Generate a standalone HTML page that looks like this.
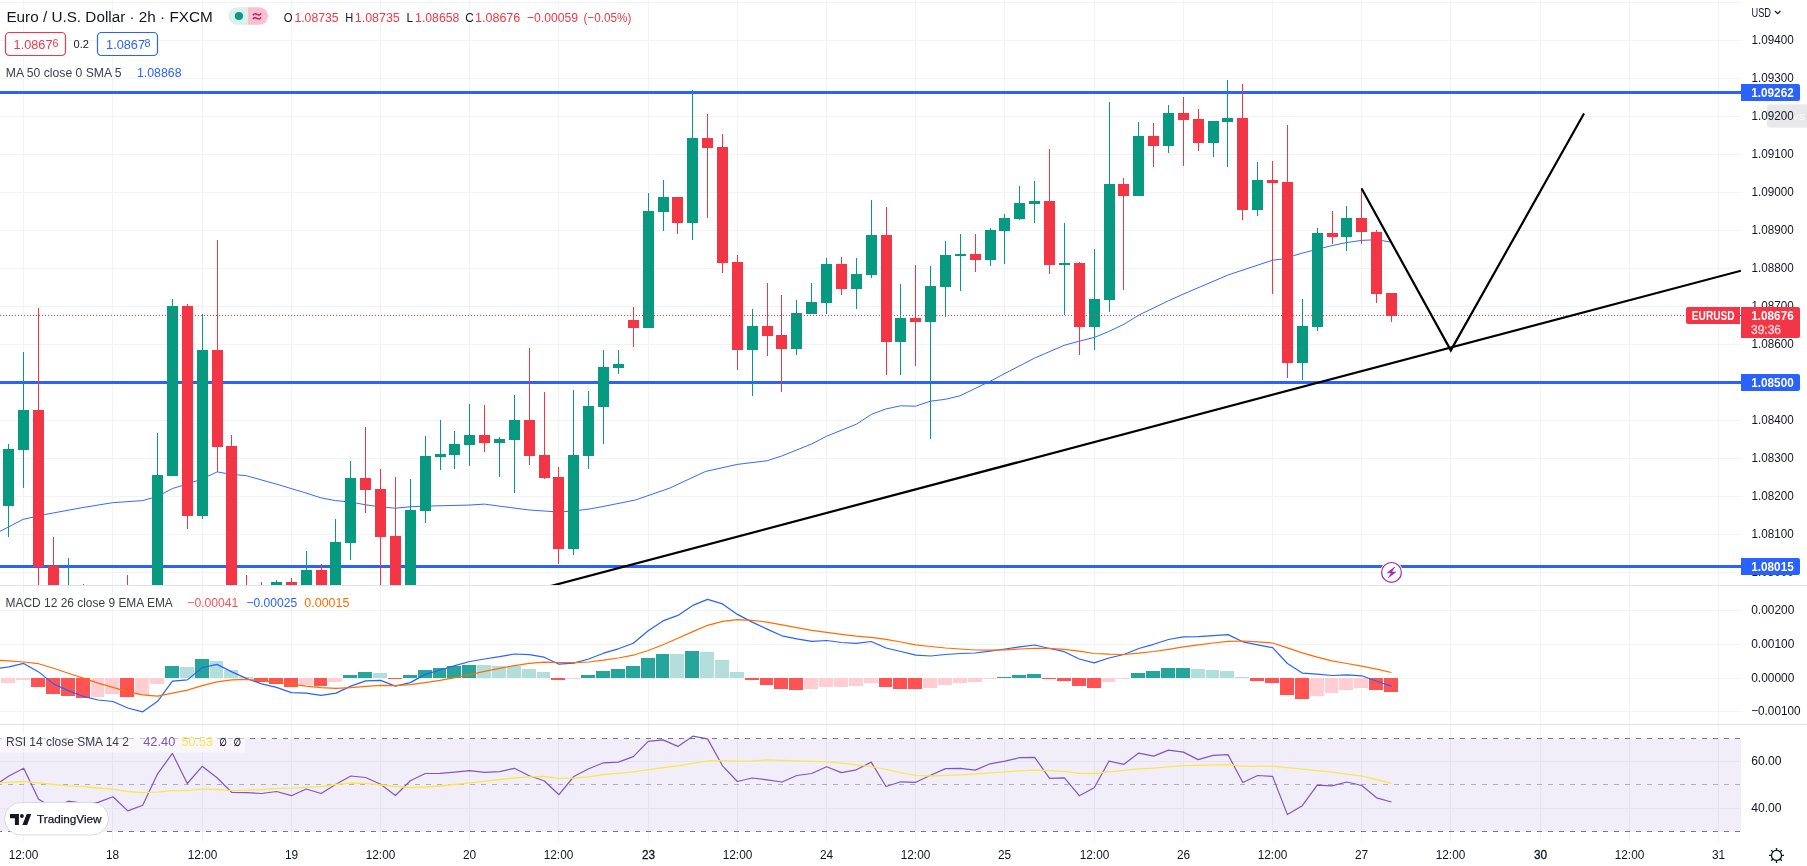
<!DOCTYPE html>
<html><head><meta charset="utf-8"><title>EURUSD chart</title>
<style>html,body{margin:0;padding:0;background:#fff;width:1807px;height:866px;overflow:hidden}</style></head>
<body>
<svg width="1807" height="866" viewBox="0 0 1807 866" style="position:absolute;left:0;top:0;will-change:transform;font-family:'Liberation Sans','DejaVu Sans',sans-serif">
<defs><clipPath id="cm"><rect x="0" y="0" width="1741" height="585"/></clipPath><clipPath id="cd"><rect x="0" y="586" width="1741" height="138"/></clipPath><clipPath id="cr"><rect x="0" y="725" width="1741" height="116"/></clipPath></defs>
<rect width="1807" height="866" fill="#fff"/>
<path d="M23.5 0V841 M112.5 0V841 M202.5 0V841 M291.5 0V841 M380.5 0V841 M469.5 0V841 M558.5 0V841 M648.5 0V841 M737.5 0V841 M826.5 0V841 M915.5 0V841 M1004.5 0V841 M1094.5 0V841 M1183.5 0V841 M1272.5 0V841 M1361.5 0V841 M1450.5 0V841 M1540.5 0V841 M1629.5 0V841 M1718.5 0V841 M0 2.5H1741 M0 40.5H1741 M0 78.5H1741 M0 116.5H1741 M0 154.5H1741 M0 192.5H1741 M0 230.5H1741 M0 268.5H1741 M0 306.5H1741 M0 344.5H1741 M0 382.5H1741 M0 420.5H1741 M0 458.5H1741 M0 496.5H1741 M0 534.5H1741 M0 572.5H1741 M0 610.5H1741 M0 644.5H1741 M0 678.5H1741 M0 711.5H1741 M0 761.5H1741 M0 808.5H1741" stroke="#f2f3f5" stroke-width="1" fill="none" shape-rendering="crispEdges"/>
<path d="M0 585.5H1807M0 724.5H1807" stroke="#e0e3eb" stroke-width="1" shape-rendering="crispEdges"/>
<rect x="0" y="738.5" width="1741" height="93" fill="#7e57c2" fill-opacity="0.1"/>
<path d="M0 738.5H1741M0 831.5H1741" stroke="#787b86" stroke-width="1" stroke-dasharray="5 6" stroke-dashoffset="3" shape-rendering="crispEdges"/>
<path d="M0 784.5H1741" stroke="#787b86" stroke-opacity=".55" stroke-width="1" stroke-dasharray="5 6" stroke-dashoffset="3" shape-rendering="crispEdges"/>
<g clip-path="url(#cm)">
<rect x="0" y="91.0" width="1741" height="3" fill="#2962ff" shape-rendering="crispEdges"/>
<rect x="0" y="381.0" width="1741" height="3" fill="#2962ff" shape-rendering="crispEdges"/>
<rect x="0" y="565.0" width="1741" height="3" fill="#2962ff" shape-rendering="crispEdges"/>
<polyline fill="none" stroke="#2962ff" stroke-opacity=".95" stroke-width="1" stroke-linejoin="round" points="0,531.4 23.2,519.3 45,514.5 83,507.5 112.6,502.7 142.7,500.6 157.6,496.4 172.5,488.5 187.4,484 202.3,478.8 217.2,471.9 231.4,474.3 246.3,475.7 276,484 291,488.5 306,493 320.8,497.8 335.4,500.6 350.6,502 365.5,504.8 380.4,506.8 395.3,508.2 410.2,506.8 425,506.1 469,505.1 484.3,504.1 499.2,506.1 529.3,510 558.8,512 573.7,511 590,508.9 603,506.5 618,503.5 635.4,500 670,488 680,483.3 705.4,471.5 737.3,464.4 767.3,460.7 781.4,456.1 811.4,444.1 826.4,436.3 856.4,424.2 871.5,414.3 885.7,409 900.7,405.8 915.5,406.2 930.5,401.2 945.3,399.3 960,395.8 990,381.3 1005,373.4 1034.4,358.2 1064.2,345.3 1079.5,341.1 1094.5,337.4 1109.5,331.2 1124,324.2 1139,315 1153.5,308 1168.4,300.8 1183.3,294.1 1228,275 1272.6,260.2 1281.6,259.1 1302,253.2 1317,249.4 1331.9,245.6 1346.7,242.5 1361.6,240.4 1376.5,239.7 1391.4,242.2"/>
<path d="M8.5 444V537 M23.5 352V488 M68.5 558V600 M157.5 433V600 M172.5 299V476 M202.5 314V519 M276.5 580V600 M306.5 551V600 M335.5 519V600 M350.5 461V560 M410.5 479V600 M425.5 436V523 M440.5 420V470 M454.5 431V469 M469.5 404V466 M499.5 437V477 M514.5 395V493 M573.5 390V555 M588.5 391V469 M603.5 350V444 M618.5 350V374 M648.5 193V328 M663.5 180V231 M692.5 90V240 M752.5 309V396 M796.5 300V355 M811.5 283V314 M826.5 258V314 M856.5 258V309 M871.5 200V278 M900.5 284V375 M930.5 266V439 M945.5 241V317 M960.5 234V291 M990.5 228V266 M1004.5 214V264 M1019.5 186V220 M1034.5 181V223 M1064.5 223V315 M1094.5 249V350 M1109.5 102V312 M1138.5 122V196 M1168.5 105V153 M1213.5 121V157 M1227.5 80V167 M1257.5 162V216 M1302.5 299V380 M1317.5 228V331 M1346.5 206V251" stroke="#089981" stroke-width="1" fill="none" shape-rendering="crispEdges"/>
<path d="M3 449h11V506h-11z M18 410h11V450h-11z M63 590h11V600h-11z M152 475h11V600h-11z M167 306h11V476h-11z M197 350h11V516h-11z M271 582h11V600h-11z M301 570h11V600h-11z M330 542h11V600h-11z M345 478h11V543h-11z M405 510h11V600h-11z M420 456h11V511h-11z M435 454h11V457h-11z M449 444h11V455h-11z M464 435h11V445h-11z M494 439h11V443h-11z M509 420h11V440h-11z M568 455h11V549h-11z M583 406h11V456h-11z M598 367h11V407h-11z M613 364h11V368h-11z M643 211h11V328h-11z M658 197h11V212h-11z M687 138h11V223h-11z M747 326h11V350h-11z M791 313h11V349h-11z M806 302h11V314h-11z M821 264h11V303h-11z M851 274h11V289h-11z M866 235h11V275h-11z M895 318h11V342h-11z M925 286h11V322h-11z M940 255h11V287h-11z M955 254h11V256h-11z M985 230h11V260h-11z M999 218h11V231h-11z M1014 203h11V219h-11z M1029 201h11V204h-11z M1059 263h11V265h-11z M1089 299h11V327h-11z M1104 184h11V300h-11z M1133 136h11V196h-11z M1163 113h11V146h-11z M1208 121h11V143h-11z M1222 118h11V122h-11z M1252 180h11V210h-11z M1297 326h11V363h-11z M1312 233h11V327h-11z M1341 218h11V237h-11z" fill="#089981" shape-rendering="crispEdges"/>
<path d="M38.5 308V600 M53.5 537V600 M83.5 584V600 M127.5 575V600 M187.5 304V529 M217.5 240V472 M231.5 435V600 M246.5 575V600 M261.5 582V600 M291.5 578V600 M321.5 564V600 M365.5 427V513 M380.5 469V600 M395.5 477V600 M484.5 405V452 M529.5 348V465 M544.5 392V479 M558.5 467V564 M633.5 307V347 M677.5 197V234 M707.5 114V218 M722.5 134V273 M737.5 255V370 M767.5 283V356 M781.5 295V392 M841.5 257V295 M886.5 207V375 M915.5 265V366 M975.5 234V272 M1049.5 149V274 M1079.5 262V355 M1123.5 178V290 M1153.5 123V167 M1183.5 97V166 M1198.5 109V151 M1242.5 84V220 M1272.5 161V294 M1287.5 125V378 M1332.5 211V244 M1361.5 188V244 M1376.5 230V303 M1391.5 293V322" stroke="#f23645" stroke-width="1" fill="none" shape-rendering="crispEdges"/>
<path d="M33 410h11V567h-11z M48 566h11V600h-11z M78 590h11V600h-11z M122 590h11V600h-11z M182 306h11V516h-11z M212 350h11V447h-11z M226 446h11V600h-11z M241 590h11V600h-11z M256 590h11V600h-11z M286 582h11V600h-11z M316 570h11V600h-11z M360 478h11V490h-11z M375 489h11V537h-11z M390 536h11V600h-11z M479 435h11V443h-11z M524 420h11V456h-11z M539 455h11V478h-11z M553 477h11V549h-11z M628 320h11V328h-11z M672 197h11V223h-11z M702 138h11V148h-11z M717 147h11V263h-11z M732 262h11V350h-11z M762 326h11V336h-11z M776 335h11V349h-11z M836 264h11V289h-11z M881 235h11V342h-11z M910 318h11V322h-11z M970 254h11V260h-11z M1044 201h11V265h-11z M1074 263h11V327h-11z M1118 184h11V196h-11z M1148 136h11V146h-11z M1178 113h11V120h-11z M1193 119h11V143h-11z M1237 118h11V210h-11z M1267 180h11V183h-11z M1282 182h11V363h-11z M1327 233h11V237h-11z M1356 218h11V232h-11z M1371 232h11V294h-11z M1386 293h11V316h-11z" fill="#f23645" shape-rendering="crispEdges"/>
<path d="M0 315.5H1741" stroke="#f23645" stroke-width="1" stroke-dasharray="1 2" shape-rendering="crispEdges"/>
<path d="M538 589.4L1741 270.7" stroke="#000" stroke-width="2.2" fill="none"/>
<path d="M1361.6 188.5L1450.8 350.4L1584 113.5" stroke="#000" stroke-width="2.2" fill="none" stroke-linejoin="miter"/>
<g transform="translate(1391.5 572.4)"><circle r="11.3" fill="#fff"/><circle r="9.9" fill="#fff" stroke="#9c27b0" stroke-width="1.2"/><path d="M3.2 -5.3L-4.2 0.4H0L-3.2 5.3L4.2 -0.4H0z" fill="#9c27b0" stroke="#9c27b0" stroke-width=".6" stroke-linejoin="round"/></g>
</g>
<g clip-path="url(#cd)">
<path d="M165 666h14v12h-14z M195 659h14v19h-14z M343 675h14v3h-14z M358 672h14v6h-14z M403 675h14v3h-14z M418 670h14v8h-14z M433 668h13v10h-13z M447 666h14v12h-14z M462 665h14v13h-14z M581 675h14v3h-14z M596 671h14v7h-14z M611 669h14v9h-14z M626 666h14v12h-14z M641 658h14v20h-14z M656 654h13v24h-13z M685 651h14v27h-14z M997 677h14v1h-14z M1012 675h14v3h-14z M1027 674h14v4h-14z M1131 673h14v5h-14z M1146 671h14v7h-14z M1161 668h14v10h-14z M1176 668h14v10h-14z" fill="#26a69a" shape-rendering="crispEdges"/>
<path d="M180 667h14v11h-14z M210 661h13v17h-13z M224 670h14v8h-14z M239 677h14v1h-14z M373 673h14v5h-14z M477 665h14v13h-14z M492 666h14v12h-14z M507 666h14v12h-14z M522 669h14v9h-14z M537 672h13v6h-13z M670 654h14v24h-14z M700 652h14v26h-14z M715 660h14v18h-14z M730 672h14v6h-14z M1191 669h14v9h-14z M1206 670h13v8h-13z M1220 671h14v7h-14z M1235 677h14v1h-14z" fill="#b2dfdb" shape-rendering="crispEdges"/>
<path d="M1 678h14v5h-14z M16 678h14v2h-14z M91 678h13v19h-13z M105 678h14v16h-14z M135 678h14v17h-14z M150 678h14v6h-14z M299 678h14v7h-14z M328 678h14v4h-14z M566 678h14v1h-14z M804 678h14v11h-14z M819 678h14v9h-14z M834 678h14v9h-14z M849 678h14v8h-14z M864 678h14v5h-14z M923 678h14v10h-14z M938 678h14v7h-14z M953 678h14v5h-14z M968 678h14v4h-14z M983 678h13v1h-13z M1102 678h13v4h-13z M1116 678h14v1h-14z M1310 678h14v18h-14z M1325 678h13v15h-13z M1339 678h14v12h-14z M1354 678h14v10h-14z" fill="#ffcdd2" shape-rendering="crispEdges"/>
<path d="M31 678h14v9h-14z M46 678h14v16h-14z M61 678h14v18h-14z M76 678h14v20h-14z M120 678h14v19h-14z M254 678h14v4h-14z M269 678h14v6h-14z M284 678h14v9h-14z M314 678h13v8h-13z M388 678h14v1h-14z M551 678h14v2h-14z M745 678h14v2h-14z M760 678h13v7h-13z M774 678h14v11h-14z M789 678h14v12h-14z M879 678h13v9h-13z M893 678h14v11h-14z M908 678h14v11h-14z M1042 678h14v1h-14z M1057 678h14v3h-14z M1072 678h14v8h-14z M1087 678h14v10h-14z M1250 678h14v3h-14z M1265 678h14v5h-14z M1280 678h14v17h-14z M1295 678h14v21h-14z M1369 678h14v12h-14z M1384 678h14v14h-14z" fill="#ff5252" shape-rendering="crispEdges"/>
<polyline fill="none" stroke="#2962ff" stroke-width="1.2" stroke-linejoin="round" points="-6,669 8.9,666.9 23.7,663.4 38.6,671.9 53.5,683.9 68.3,690.6 83.2,696.3 98.1,700 112.9,701.5 127.8,708 142.7,711.8 157.6,701.3 172.4,681.1 187.3,679.9 202.2,667.7 217.0,664.4 231.9,671.9 246.8,678.6 261.6,683.9 276.5,687.4 291.4,692.6 306.2,693.1 321.1,695.3 336.0,693.1 350.8,686.1 365.7,680.9 380.6,680.4 395.4,686.1 410.3,682.6 425.2,674.4 440.0,670 454.9,665.7 469.8,661.5 484.6,659 499.5,656.7 514.4,654 529.2,654.7 544.1,657.2 559.0,664.2 573.8,663.2 588.7,659 603.6,653.2 618.4,648.8 633.3,643.3 648.2,630.8 663.0,620.9 677.9,615.4 692.8,605.4 707.6,599.4 722.5,603.9 737.4,614.4 752.2,622.1 767.1,629.1 782.0,635.8 796.8,638.8 811.7,641.3 826.6,640.5 841.4,642.5 856.3,643.3 871.2,641.5 886.0,648 900.9,651.5 915.8,655.2 930.6,656 945.5,654.5 960.4,653.5 975.2,653 990.1,651.2 1005.0,649 1019.8,646.8 1034.7,645 1049.6,648.5 1064.4,651.7 1079.3,659 1094.2,662.9 1109.0,658 1123.9,654.5 1138.8,648.5 1153.6,644.3 1168.5,639.5 1183.4,636.8 1198.2,636.6 1213.1,635.6 1228.0,634.6 1242.8,641.8 1257.7,644.8 1272.6,647.7 1287.4,663.5 1302.3,673.1 1317.2,674.1 1332.0,675.5 1346.9,674.8 1361.8,675.8 1376.6,681.3 1391.5,686.1"/>
<polyline fill="none" stroke="#ff6d00" stroke-width="1.2" stroke-linejoin="round" points="-6,660 8.9,660.8 23.7,662 38.6,663.7 53.5,668.2 68.3,673.2 83.2,678.1 98.1,683.1 112.9,687.4 127.8,691.6 142.7,694.8 157.6,696.1 172.4,693.1 187.3,690.1 202.2,685.6 217.0,681.9 231.9,679.9 246.8,679.4 261.6,680.6 276.5,682.1 291.4,684.1 306.2,686.1 321.1,687.6 336.0,688.4 350.8,687.6 365.7,686.4 380.6,685.4 395.4,685.6 410.3,684.6 425.2,682.6 440.0,680.3 454.9,677.6 469.8,674.7 484.6,671.4 499.5,668.4 514.4,665.7 529.2,663.4 544.1,662.2 559.0,662.5 573.8,662.7 588.7,662 603.6,660.2 618.4,658 633.3,655.2 648.2,650.5 663.0,644.8 677.9,638.3 692.8,631.6 707.6,625.3 722.5,621.4 737.4,619.6 752.2,620.4 767.1,622.1 782.0,624.8 796.8,627.6 811.7,630.3 826.6,632.3 841.4,634.3 856.3,636.1 871.2,637.3 886.0,639.3 900.9,642 915.8,644.8 930.6,646.5 945.5,648 960.4,649 975.2,650 990.1,650.2 1005.0,649.8 1019.8,649 1034.7,648.3 1049.6,648.3 1064.4,649.3 1079.3,651.2 1094.2,653.5 1109.0,654.2 1123.9,654.5 1138.8,653.2 1153.6,651.5 1168.5,649.3 1183.4,646.8 1198.2,644.8 1213.1,643 1228.0,641.3 1242.8,641 1257.7,641.8 1272.6,643 1287.4,647.9 1302.3,652.9 1317.2,657.2 1332.0,660.8 1346.9,663.5 1361.8,666.2 1376.6,669.2 1391.5,672.5"/>
</g>
<g clip-path="url(#cr)">
<polyline fill="none" stroke="#7e57c2" stroke-width="1.2" stroke-linejoin="round" points="-6,786 8.9,776 23.7,768.3 38.6,799.2 53.5,807.7 68.3,801.2 83.2,803.4 98.1,802.4 112.9,796.7 127.8,810.9 142.7,805.2 157.6,773.8 172.4,753.4 187.3,783.5 202.2,766.3 217.0,777.8 231.9,792.5 246.8,792.7 261.6,793.5 276.5,791.5 291.4,795.7 306.2,789 321.1,793.5 336.0,784.3 350.8,776 365.7,777.5 380.6,784.3 395.4,795.5 410.3,780.8 425.2,773.5 440.0,773.4 454.9,772.1 469.8,770.6 484.6,772.3 499.5,771.6 514.4,768.3 529.2,775.8 544.1,780.8 559.0,794.7 573.8,776.5 588.7,768.8 603.6,762.8 618.4,762.1 633.3,756.6 648.2,741.4 663.0,739.9 677.9,746.4 692.8,736.2 707.6,738.9 722.5,765.8 737.4,781.5 752.2,778 767.1,779.8 782.0,782 796.8,775.5 811.7,773.5 826.6,766.8 841.4,772.6 856.3,769.8 871.2,762.1 886.0,786.5 900.9,781.8 915.8,782.3 930.6,775.3 945.5,768.6 960.4,768.3 975.2,770.1 990.1,763.8 1005.0,761.1 1019.8,757.6 1034.7,757.4 1049.6,778.3 1064.4,777.8 1079.3,795.7 1094.2,787.7 1109.0,761.1 1123.9,764.3 1138.8,753.1 1153.6,756.1 1168.5,750.1 1183.4,752.1 1198.2,759.6 1213.1,755.4 1228.0,754.6 1242.8,782.5 1257.7,775.5 1272.6,776.4 1287.4,814.6 1302.3,805.7 1317.2,785.2 1332.0,785.9 1346.9,782 1361.8,785.5 1376.6,797.8 1391.5,802"/>
<polyline fill="none" stroke="#fbe64d" stroke-width="1.3" stroke-linejoin="round" points="-6,783 8.9,782.3 23.7,781.5 38.6,782.8 53.5,784.3 68.3,785.8 83.2,786.7 98.1,788 112.9,789.2 127.8,791.5 142.7,792.7 157.6,792.2 172.4,790.7 187.3,790.7 202.2,789.2 217.0,789.5 231.9,790.7 246.8,790.2 261.6,789.5 276.5,788.7 291.4,788.2 306.2,787.2 321.1,786.7 336.0,784.5 350.8,783 365.7,783.3 380.6,785 395.4,786.5 410.3,787.5 425.2,787 440.0,786 454.9,784.5 469.8,782.8 484.6,781.3 499.5,779.5 514.4,778 529.2,776.8 544.1,776.5 559.0,778.3 573.8,778 588.7,776.8 603.6,774.5 618.4,773.3 633.3,771.8 648.2,769.6 663.0,767.6 677.9,765.8 692.8,763.3 707.6,760.8 722.5,760.6 737.4,761.1 752.2,760.8 767.1,759.9 782.0,760.4 796.8,760.8 811.7,761.3 826.6,761.8 841.4,763.1 856.3,764.8 871.2,766.6 886.0,769.3 900.9,772.6 915.8,775.3 930.6,776 945.5,775.3 960.4,774.8 975.2,774 990.1,772.8 1005.0,771.8 1019.8,770.8 1034.7,770.1 1049.6,770.6 1064.4,771.3 1079.3,773.3 1094.2,773.5 1109.0,771.8 1123.9,770.3 1138.8,768.8 1153.6,768.1 1168.5,766.8 1183.4,765.6 1198.2,765.3 1213.1,764.8 1228.0,764.6 1242.8,766.3 1257.7,766.3 1272.6,766.2 1287.4,767.6 1302.3,769.1 1317.2,770.6 1332.0,772.1 1346.9,774.1 1361.8,776.2 1376.6,779.5 1391.5,783.4"/>
</g>
<text x="6.4" y="21.7" font-size="15.4" fill="#131722" textLength="206.3" lengthAdjust="spacingAndGlyphs">Euro / U.S. Dollar · 2h · FXCM</text>
<path d="M237.2 7.2H248V24.8H237.2a8.8 8.8 0 0 1 0-17.6z" fill="#dbf0ec"/>
<path d="M248 7.2H259.2a8.8 8.8 0 0 1 0 17.6H248z" fill="#f9c0d2"/>
<circle cx="238.9" cy="16" r="4.1" fill="#089981"/>
<g transform="translate(257 16.3)" stroke="#c9185f" stroke-width="1.45" fill="none"><path d="M-4.1 -1C-3.2 -2.6 -1.8 -3 0 -1.9C1.6 -0.9 2.9 -0.9 4.1 -2.9"/><path d="M-4.1 2.9C-3.2 1.3 -1.8 0.9 0 2C1.6 3 2.9 3 4.1 1"/></g>
<text x="283.7" y="21.9" font-size="12.4" fill="#131722" textLength="8.8" lengthAdjust="spacingAndGlyphs">O</text>
<text x="294.4" y="21.9" font-size="13" fill="#f23645" textLength="44.2" lengthAdjust="spacingAndGlyphs">1.08735</text>
<text x="345.3" y="21.9" font-size="12.4" fill="#131722" textLength="8.0" lengthAdjust="spacingAndGlyphs">H</text>
<text x="354.8" y="21.9" font-size="13" fill="#f23645" textLength="45" lengthAdjust="spacingAndGlyphs">1.08735</text>
<text x="406.5" y="21.9" font-size="12.4" fill="#131722" textLength="6.6" lengthAdjust="spacingAndGlyphs">L</text>
<text x="415.1" y="21.9" font-size="13" fill="#f23645" textLength="44.2" lengthAdjust="spacingAndGlyphs">1.08658</text>
<text x="465.2" y="21.9" font-size="12.4" fill="#131722" textLength="8.6" lengthAdjust="spacingAndGlyphs">C</text>
<text x="475" y="21.9" font-size="13" fill="#f23645" textLength="45.3" lengthAdjust="spacingAndGlyphs">1.08676</text>
<text x="527" y="21.9" font-size="13" fill="#f23645" textLength="51.1" lengthAdjust="spacingAndGlyphs">−0.00059</text>
<text x="583.4" y="21.9" font-size="13" fill="#f23645" textLength="47.9" lengthAdjust="spacingAndGlyphs">(−0.05%)</text>
<rect x="5.5" y="32.5" width="60" height="23" rx="4" fill="#fff" stroke="#f23645" stroke-width="1.2"/>
<text x="13.6" y="48.6" font-size="12.6" fill="#f23645" textLength="38.9" lengthAdjust="spacingAndGlyphs">1.0867</text>
<text x="52.4" y="46.8" font-size="10.8" fill="#f23645">6</text>
<text x="73.6" y="48.4" font-size="11" fill="#131722" textLength="15.4" lengthAdjust="spacingAndGlyphs">0.2</text>
<rect x="97.5" y="32.5" width="60" height="23" rx="4" fill="#fff" stroke="#2962ff" stroke-width="1.2"/>
<text x="106.1" y="48.6" font-size="12.6" fill="#2962ff" textLength="38.9" lengthAdjust="spacingAndGlyphs">1.0867</text>
<text x="144.6" y="46.8" font-size="10.8" fill="#2962ff">8</text>
<text x="5.8" y="76.9" font-size="12.6" fill="#3c3f4a" textLength="115.8" lengthAdjust="spacingAndGlyphs">MA 50 close 0 SMA 5</text>
<text x="137" y="76.9" font-size="12.6" fill="#2962ff" textLength="44.5" lengthAdjust="spacingAndGlyphs">1.08868</text>
<text x="5.6" y="607.4" font-size="12.6" fill="#3c3f4a" textLength="167.2" lengthAdjust="spacingAndGlyphs">MACD 12 26 close 9 EMA EMA</text>
<text x="187.3" y="607.4" font-size="12.6" fill="#ff5252" textLength="51" lengthAdjust="spacingAndGlyphs">−0.00041</text>
<text x="246.5" y="607.4" font-size="12.6" fill="#2962ff" textLength="50.6" lengthAdjust="spacingAndGlyphs">−0.00025</text>
<text x="304.3" y="607.4" font-size="12.6" fill="#ff6d00" textLength="45.1" lengthAdjust="spacingAndGlyphs">0.00015</text>
<rect x="0" y="731" width="245" height="21.5" fill="#fff" fill-opacity=".55"/>
<text x="6.1" y="745.8" font-size="12.6" fill="#3c3f4a" textLength="122.9" lengthAdjust="spacingAndGlyphs">RSI 14 close SMA 14 2</text>
<text x="143.2" y="745.8" font-size="12.6" fill="#7e57c2" textLength="32.1" lengthAdjust="spacingAndGlyphs">42.40</text>
<text x="181.6" y="745.8" font-size="12.6" fill="#fbe64d" textLength="31.4" lengthAdjust="spacingAndGlyphs">50.53</text>
<text x="219.2" y="745.8" font-size="11.5" fill="#131722" textLength="7.6" lengthAdjust="spacingAndGlyphs" stroke="#131722" stroke-width=".3">∅</text>
<text x="233.6" y="745.8" font-size="11.5" fill="#131722" textLength="7.6" lengthAdjust="spacingAndGlyphs" stroke="#131722" stroke-width=".3">∅</text>
<rect x="1767" y="104.5" width="44" height="23" rx="3" fill="#e8e8eb"/>
<text x="1792.5" y="119.8" font-size="9.5" fill="#fff" fill-opacity=".85">VS</text>
<text x="1751.5" y="43.9" font-size="12.6" fill="#131722" textLength="42.2" lengthAdjust="spacingAndGlyphs">1.09400</text>
<text x="1751.5" y="81.9" font-size="12.6" fill="#131722" textLength="42.2" lengthAdjust="spacingAndGlyphs">1.09300</text>
<text x="1751.5" y="119.9" font-size="12.6" fill="#131722" textLength="42.2" lengthAdjust="spacingAndGlyphs">1.09200</text>
<text x="1751.5" y="157.9" font-size="12.6" fill="#131722" textLength="42.2" lengthAdjust="spacingAndGlyphs">1.09100</text>
<text x="1751.5" y="195.9" font-size="12.6" fill="#131722" textLength="42.2" lengthAdjust="spacingAndGlyphs">1.09000</text>
<text x="1751.5" y="233.9" font-size="12.6" fill="#131722" textLength="42.2" lengthAdjust="spacingAndGlyphs">1.08900</text>
<text x="1751.5" y="271.9" font-size="12.6" fill="#131722" textLength="42.2" lengthAdjust="spacingAndGlyphs">1.08800</text>
<text x="1751.5" y="309.9" font-size="12.6" fill="#131722" textLength="42.2" lengthAdjust="spacingAndGlyphs">1.08700</text>
<text x="1751.5" y="347.9" font-size="12.6" fill="#131722" textLength="42.2" lengthAdjust="spacingAndGlyphs">1.08600</text>
<text x="1751.5" y="385.9" font-size="12.6" fill="#131722" textLength="42.2" lengthAdjust="spacingAndGlyphs">1.08500</text>
<text x="1751.5" y="423.9" font-size="12.6" fill="#131722" textLength="42.2" lengthAdjust="spacingAndGlyphs">1.08400</text>
<text x="1751.5" y="461.9" font-size="12.6" fill="#131722" textLength="42.2" lengthAdjust="spacingAndGlyphs">1.08300</text>
<text x="1751.5" y="499.9" font-size="12.6" fill="#131722" textLength="42.2" lengthAdjust="spacingAndGlyphs">1.08200</text>
<text x="1751.5" y="537.9" font-size="12.6" fill="#131722" textLength="42.2" lengthAdjust="spacingAndGlyphs">1.08100</text>
<text x="1751.5" y="575.9" font-size="12.6" fill="#131722" textLength="42.2" lengthAdjust="spacingAndGlyphs">1.08000</text>
<text x="1751.2" y="614.2" font-size="12.6" fill="#131722" textLength="43.2" lengthAdjust="spacingAndGlyphs">0.00200</text>
<text x="1751.2" y="648.0" font-size="12.6" fill="#131722" textLength="43.2" lengthAdjust="spacingAndGlyphs">0.00100</text>
<text x="1751.2" y="681.6" font-size="12.6" fill="#131722" textLength="43.2" lengthAdjust="spacingAndGlyphs">0.00000</text>
<text x="1751.2" y="715.2" font-size="12.6" fill="#131722" textLength="49.4" lengthAdjust="spacingAndGlyphs">−0.00100</text>
<text x="1751.2" y="765.0" font-size="12.6" fill="#131722" textLength="30.4" lengthAdjust="spacingAndGlyphs">60.00</text>
<text x="1751.2" y="811.6" font-size="12.6" fill="#131722" textLength="30.4" lengthAdjust="spacingAndGlyphs">40.00</text>
<text x="1751.5" y="16.5" font-size="12.2" fill="#131722" textLength="19.5" lengthAdjust="spacingAndGlyphs">USD</text>
<path d="M1775 11l2.7 2.7l2.7 -2.7" stroke="#131722" stroke-width="1.2" fill="none"/>
<path d="M1741 84.0h57a2 2 0 0 1 2 2v13a2 2 0 0 1 -2 2h-57z" fill="#2962ff"/>
<text x="1751.3" y="96.7" font-size="12.4" fill="#fff" font-weight="bold" textLength="42.4" lengthAdjust="spacingAndGlyphs">1.09262</text>
<path d="M1741 374.0h57a2 2 0 0 1 2 2v13a2 2 0 0 1 -2 2h-57z" fill="#2962ff"/>
<text x="1751.3" y="386.7" font-size="12.4" fill="#fff" font-weight="bold" textLength="42.4" lengthAdjust="spacingAndGlyphs">1.08500</text>
<path d="M1741 558.0h57a2 2 0 0 1 2 2v13a2 2 0 0 1 -2 2h-57z" fill="#2962ff"/>
<text x="1751.3" y="570.7" font-size="12.4" fill="#fff" font-weight="bold" textLength="42.4" lengthAdjust="spacingAndGlyphs">1.08015</text>
<path d="M1740 307v17h-52a2 2 0 0 1 -2 -2v-13a2 2 0 0 1 2 -2z" fill="#f23645"/>
<text x="1691.8" y="320" font-size="12.2" fill="#fff" font-weight="bold" textLength="42.8" lengthAdjust="spacingAndGlyphs">EURUSD</text>
<path d="M1741 307h57a2 2 0 0 1 2 2v27a2 2 0 0 1 -2 2h-57z" fill="#f23645"/>
<text x="1751.3" y="319.8" font-size="12.4" fill="#fff" font-weight="bold" textLength="42.4" lengthAdjust="spacingAndGlyphs">1.08676</text>
<text x="1751.0" y="333.8" font-size="12.4" fill="#fff" textLength="30" lengthAdjust="spacingAndGlyphs" fill-opacity=".85" stroke="#fff" stroke-opacity=".6" stroke-width=".3">39:36</text>
<text x="8.7" y="859.1" font-size="12.4" fill="#131722" textLength="29.6" lengthAdjust="spacingAndGlyphs">12:00</text>
<text x="105.9" y="859.1" font-size="12.4" fill="#131722" textLength="13.2" lengthAdjust="spacingAndGlyphs">18</text>
<text x="187.7" y="859.1" font-size="12.4" fill="#131722" textLength="29.6" lengthAdjust="spacingAndGlyphs">12:00</text>
<text x="284.9" y="859.1" font-size="12.4" fill="#131722" textLength="13.2" lengthAdjust="spacingAndGlyphs">19</text>
<text x="365.7" y="859.1" font-size="12.4" fill="#131722" textLength="29.6" lengthAdjust="spacingAndGlyphs">12:00</text>
<text x="462.9" y="859.1" font-size="12.4" fill="#131722" textLength="13.2" lengthAdjust="spacingAndGlyphs">20</text>
<text x="543.7" y="859.1" font-size="12.4" fill="#131722" textLength="29.6" lengthAdjust="spacingAndGlyphs">12:00</text>
<text x="641.9" y="859.1" font-size="12.4" fill="#131722" textLength="13.2" lengthAdjust="spacingAndGlyphs" stroke="#131722" stroke-width=".3">23</text>
<text x="722.7" y="859.1" font-size="12.4" fill="#131722" textLength="29.6" lengthAdjust="spacingAndGlyphs">12:00</text>
<text x="819.9" y="859.1" font-size="12.4" fill="#131722" textLength="13.2" lengthAdjust="spacingAndGlyphs">24</text>
<text x="900.7" y="859.1" font-size="12.4" fill="#131722" textLength="29.6" lengthAdjust="spacingAndGlyphs">12:00</text>
<text x="997.9" y="859.1" font-size="12.4" fill="#131722" textLength="13.2" lengthAdjust="spacingAndGlyphs">25</text>
<text x="1079.7" y="859.1" font-size="12.4" fill="#131722" textLength="29.6" lengthAdjust="spacingAndGlyphs">12:00</text>
<text x="1176.9" y="859.1" font-size="12.4" fill="#131722" textLength="13.2" lengthAdjust="spacingAndGlyphs">26</text>
<text x="1257.7" y="859.1" font-size="12.4" fill="#131722" textLength="29.6" lengthAdjust="spacingAndGlyphs">12:00</text>
<text x="1354.9" y="859.1" font-size="12.4" fill="#131722" textLength="13.2" lengthAdjust="spacingAndGlyphs">27</text>
<text x="1435.7" y="859.1" font-size="12.4" fill="#131722" textLength="29.6" lengthAdjust="spacingAndGlyphs">12:00</text>
<text x="1533.9" y="859.1" font-size="12.4" fill="#131722" textLength="13.2" lengthAdjust="spacingAndGlyphs" stroke="#131722" stroke-width=".3">30</text>
<text x="1614.7" y="859.1" font-size="12.4" fill="#131722" textLength="29.6" lengthAdjust="spacingAndGlyphs">12:00</text>
<text x="1711.9" y="859.1" font-size="12.4" fill="#131722" textLength="13.2" lengthAdjust="spacingAndGlyphs">31</text>
<circle cx="1776.5" cy="855.4" r="5" fill="none" stroke="#131722" stroke-width="1.3"/><path d="M1781.70 855.40L1784.00 855.40 M1780.18 859.08L1781.80 860.70 M1776.50 860.60L1776.50 862.90 M1772.82 859.08L1771.20 860.70 M1771.30 855.40L1769.00 855.40 M1772.82 851.72L1771.20 850.10 M1776.50 850.20L1776.50 847.90 M1780.18 851.72L1781.80 850.10" stroke="#131722" stroke-width="1.3"/>
<rect x="4.5" y="802.5" width="104" height="32.5" rx="16.25" fill="#fff" stroke="#d9dbe2"/>
<path d="M10 814.1h8.9v10.8h-4v-6.7h-4.9z" fill="#131722"/><circle cx="21.9" cy="816" r="1.9" fill="#131722"/><path d="M26.7 814.1h4.6l-4.2 10.8h-4.7z" fill="#131722"/>
<text x="37.0" y="822.9" font-size="11.4" fill="#131722" textLength="64.6" lengthAdjust="spacingAndGlyphs" stroke="#131722" stroke-width=".25">TradingView</text>
</svg>
</body></html>
